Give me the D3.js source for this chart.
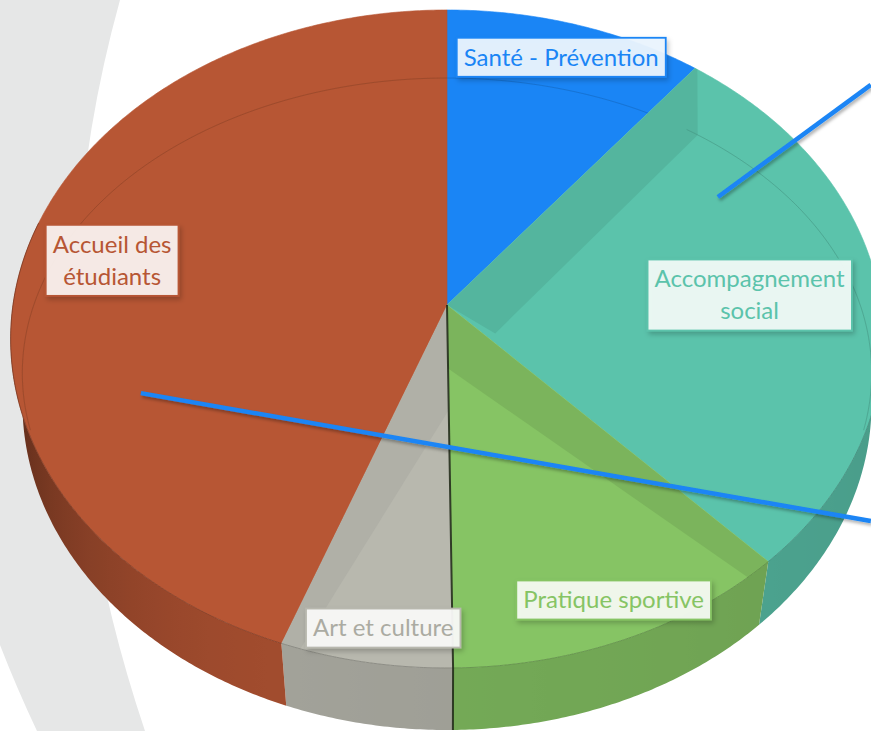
<!DOCTYPE html>
<html><head><meta charset="utf-8">
<script src="https://cdn.jsdelivr.net/npm/d3@7"></script>
<style>html,body{margin:0;padding:0;background:#fff;overflow:hidden}</style>
</head><body><svg id="c" width="871" height="731"></svg>
<script>
// ---------- data ----------
const categories = ["Santé - Prévention", "Accompagnement social", "Pratique sportive", "Art et culture", "Accueil des étudiants"];
const values = [10.6, 27.4, 11.8, 5.8, 44.4];
const labelLines = [["Santé - Prévention"], ["Accompagnement", "social"], ["Pratique sportive"], ["Art et culture"], ["Accueil des", "étudiants"]];
const colors = ["#1A85F5", "#5BC3AB", "#86C464", "#B8B8AE", "#B75634"];
// label placement: fraction of radius and angular nudge (degrees) from each slice's mid angle
const labelRadius = [0.874, 0.70, 0.90, 0.91, 0.795];
const labelNudge = [0, 0, -1, -1.3, 0];
// leader lines, given as [angle in degrees, fraction of radius] on the pie plane
const leaders = [
  { from: [249.0, 0.735], to: [124.2, 1.105] },
  { from: [62.0, 0.732], to: [55.3, 1.277] }
];

// ---------- geometry ----------
const W = 871, H = 731;
const CX = 447, CY = 305, A = 434, K = 0.1033, SIN = 0.75, COS = 0.661, SD = 0.117, DEPTH = 0.2345;
const RING = { cx: 447, cy: 340, ax: 422, by: 291.3, k: 0.112 };
const rad = d => d * Math.PI / 180;

function proj(X, Z, Y = 0) { const d = 1 + K * Z - Y * SD; return [CX + A * X / d, CY - A * (Z * SIN + Y * COS) / d]; }
function polar(t, r, Y = 0) { return proj(r * Math.sin(t), r * Math.cos(t), Y); }
function ringPt(t) { const X = Math.sin(t), Z = Math.cos(t), d = 1 + RING.k * Z; return [RING.cx + RING.ax * X / d, RING.cy - RING.by * Z / d]; }
function arcPts(a0, a1, fn) { const n = Math.max(2, Math.ceil(Math.abs(a1 - a0) / rad(0.5))); return d3.range(n + 1).map(i => fn(a0 + (a1 - a0) * i / n)); }
function shade(c, f) { const o = d3.rgb(c); return d3.rgb(Math.min(255, o.r * f), Math.min(255, o.g * f), Math.min(255, o.b * f)).formatHex(); }

const svg = d3.select("#c");
const defs = svg.append("defs");
const sh = defs.append("filter").attr("id", "shadow").attr("x", "-20%").attr("y", "-30%").attr("width", "150%").attr("height", "180%");
sh.append("feDropShadow").attr("dx", 2).attr("dy", 3).attr("stdDeviation", 2.5).attr("flood-color", "#000").attr("flood-opacity", 0.22);
const sh2 = defs.append("filter").attr("id", "lshadow").attr("x", "-10%").attr("y", "-10%").attr("width", "120%").attr("height", "130%");
sh2.append("feDropShadow").attr("dx", 1.5).attr("dy", 2.5).attr("stdDeviation", 1.5).attr("flood-color", "#000").attr("flood-opacity", 0.3);

svg.append("rect").attr("width", W).attr("height", H).attr("fill", "#fff");
// decorative background band
svg.append("path").attr("d", "M 120,0 Q 20,360 145,731 L 37,731 Q -120,400 -80,0 Z").attr("fill", "#E6E7E7");

const pie = d3.pie().sort(null).value(d => d).startAngle(0).endAngle(2 * Math.PI);
const arcs = pie(values);
const line = d3.line();

// ---------- side wall ----------
function wallFactor(t) {
  const deg = t * 180 / Math.PI;
  if (deg <= 200) return 0.8 + 0.08 * (deg - 100) / 100;
  return Math.max(0.28, 0.88 - 0.48 * Math.pow((deg - 200) / 65, 1.6));
}
const gWall = svg.append("g");
arcs.forEach((a, i) => {
  const lo = Math.max(a.startAngle, rad(92)), hi = Math.min(a.endAngle, rad(285));
  if (hi <= lo) return;
  const grad = defs.append("linearGradient").attr("id", "wg" + i).attr("gradientUnits", "userSpaceOnUse")
    .attr("x1", 0).attr("x2", W).attr("y1", 0).attr("y2", 0);
  const stops = d3.range(92, 272, 2).map(d => ({ x: polar(rad(d), 1)[0], c: shade(colors[i], wallFactor(rad(d))) }))
    .sort((p, q) => p.x - q.x);
  stops.forEach(s => grad.append("stop").attr("offset", Math.max(0, Math.min(1, s.x / W))).attr("stop-color", s.c));
  const top = arcPts(lo, hi, t => polar(t, 1));
  const bot = arcPts(hi, lo, t => polar(t, 1, -DEPTH));
  gWall.append("path").attr("d", line([...top, ...bot]) + "Z").attr("fill", "url(#wg" + i + ")");
});

// ---------- top faces ----------
const facePath = a => line([proj(0, 0), ...arcPts(a.startAngle, a.endAngle, t => polar(t, 1))]) + "Z";
const gFace = svg.append("g");
arcs.forEach((a, i) => {
  defs.append("clipPath").attr("id", "clip" + i).append("path").attr("d", facePath(a));
  gFace.append("path").attr("d", facePath(a)).attr("fill", colors[i]).attr("stroke", colors[i]).attr("stroke-width", 0.6);
});

// ---------- bevel strips along radial edges (shadowed side only) ----------
const gStrip = svg.append("g");
const W_STRIP = 0.14;
arcs.forEach((a, i) => {
  [[a.startAngle, 1], [a.endAngle, -1]].forEach(([t, s]) => {
    const nX = s * Math.cos(t), nZ = -s * Math.sin(t);
    const outZ = -nZ;
    const f = 1 - 0.12 * outZ;
    if (f > 0.985) return;
    const pts = [proj(0, 0), polar(t, 1.01), ringPt(t + s * rad(2)), proj(nX * W_STRIP, nZ * W_STRIP)];
    gStrip.append("path").attr("d", line(pts) + "Z").attr("fill", shade(colors[i], f))
      .attr("clip-path", "url(#clip" + i + ")");
  });
});

// ---------- inner bevel ring line ----------
arcs.forEach((a, i) => {
  const segs = [];
  let cur = [];
  arcPts(a.startAngle, a.endAngle, t => t).forEach(t => {
    if (Math.cos(t) > -0.3) cur.push(ringPt(t)); else if (cur.length) { segs.push(cur); cur = []; }
  });
  if (cur.length) segs.push(cur);
  segs.forEach(sg => svg.append("path").attr("d", line(sg)).attr("fill", "none")
    .attr("stroke", shade(colors[i], 0.75)).attr("stroke-opacity", 0.55).attr("stroke-width", 1)
    .attr("clip-path", "url(#clip" + i + ")"));
});

// front rim line (face / wall edge)
arcs.forEach((a, i) => {
  const lo = Math.max(a.startAngle, rad(95)), hi = Math.min(a.endAngle, rad(285));
  if (hi <= lo) return;
  svg.append("path").attr("d", line(arcPts(lo, hi, t => polar(t, 1)))).attr("fill", "none")
    .attr("stroke", shade(colors[i], 0.6)).attr("stroke-opacity", 0.6).attr("stroke-width", 1);
});

// dark seam between "Pratique sportive" and "Art et culture"
{
  const t = arcs[3].startAngle;
  svg.append("path").attr("d", line([proj(0, 0), polar(t, 1), polar(t, 1, -DEPTH)]))
    .attr("fill", "none").attr("stroke", "#1c2614").attr("stroke-width", 2).attr("stroke-opacity", 0.85);
}

// ---------- labels ----------
const FS = 24, LH = 32;
const gLab = svg.append("g").attr("font-family", "Lato, 'Open Sans', sans-serif").attr("font-size", FS);
arcs.forEach((a, i) => {
  const mid = (a.startAngle + a.endAngle) / 2 + rad(labelNudge[i]);
  const [x, y] = polar(mid, labelRadius[i]);
  const g = gLab.append("g");
  const rect = g.append("rect");
  const lines = labelLines[i];
  const txt = g.append("text").attr("text-anchor", "middle").attr("fill", colors[i] === "#B8B8AE" ? "#ABABA2" : colors[i]);
  lines.forEach((s, k) => {
    txt.append("tspan").attr("x", x).attr("y", y - (lines.length - 1) * LH / 2 + k * LH + FS * 0.35).text(s);
  });
  const bb = txt.node().getBBox();
  const padX = 7;
  const hgt = lines.length * LH + 7;
  rect.attr("x", bb.x - padX).attr("y", y - hgt / 2).attr("width", bb.width + 2 * padX).attr("height", hgt)
    .attr("fill", d3.interpolateRgb("#ffffff", colors[i])(0.09)).attr("fill-opacity", 0.95)
    .attr("stroke", colors[i]).attr("stroke-width", 1.8).attr("filter", "url(#shadow)");
});

// ---------- leader lines ----------
leaders.forEach(l => {
  const p0 = polar(rad(l.from[0]), l.from[1]), p1 = polar(rad(l.to[0]), l.to[1]);
  svg.append("path").attr("d", line([p0, p1])).attr("stroke", "#1A85F5").attr("stroke-width", 4.5)
    .attr("fill", "none").attr("filter", "url(#lshadow)");
});
</script></body></html>
